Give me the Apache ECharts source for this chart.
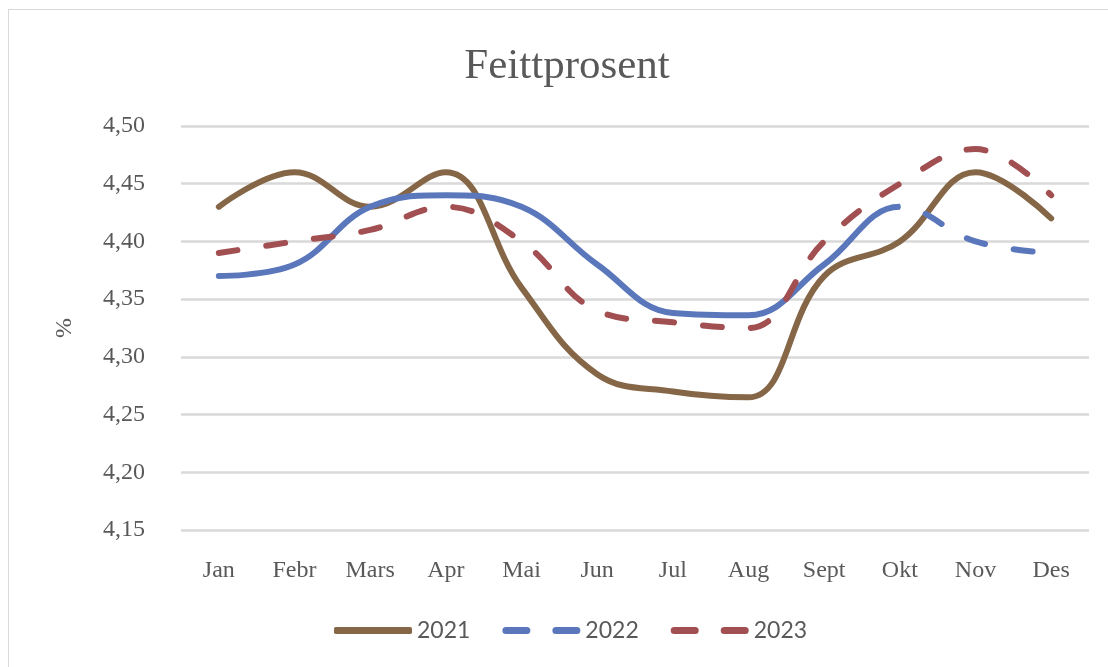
<!DOCTYPE html>
<html>
<head>
<meta charset="utf-8">
<script src="https://cdn.jsdelivr.net/npm/echarts@6/dist/echarts.min.js"></script>
<style>
  html, body { margin: 0; padding: 0; background: #fff; }
  #frame { position: absolute; left: 8px; top: 9px; width: 1110px; height: 660px; border: 1px solid #d9d9d9; box-sizing: border-box; }
  #main { position: absolute; left: 0; top: 0; width: 1108px; height: 667px; }
</style>
</head>
<body>
<div id="frame"></div>
<div id="main"></div>
<script>
// maaneder
var months = ['Jan', 'Febr', 'Mars', 'Apr', 'Mai', 'Jun', 'Jul', 'Aug', 'Sept', 'Okt', 'Nov', 'Des'];
// feittprosent per aar
var fett2021 = [4.43, 4.46, 4.43, 4.46, 4.36, 4.285, 4.27, 4.265, 4.37, 4.40, 4.46, 4.42];
var fett2022 = [4.37, 4.38, 4.43, 4.44, 4.43, 4.38, 4.338, 4.336, 4.38, 4.43, 4.40, 4.39];
var fett2023 = [4.39, 4.40, 4.41, 4.43, 4.40, 4.34, 4.33, 4.325, 4.40, 4.45, 4.48, 4.44];
var yTicks = [4.15, 4.20, 4.25, 4.30, 4.35, 4.40, 4.45, 4.50];

var c2021 = '#856647', c2022 = '#5B77BB', c2023 = '#A24F52';
var none = 'rgba(91,119,187,0)';
var gridLeft = 181, gridRight = 19, chartW = 1108;

// 2022 er heltrukket fram til Okt, stiplet etterpaa
var okt = months.indexOf('Okt');
var f = (okt + 0.5) / months.length;
function cut(before, after) {
	return {
		type: 'linear', global: true,
		x: gridLeft, y: 0, x2: chartW - gridRight, y2: 0,
		colorStops: [
			{ offset: 0, color: before }, { offset: f, color: before },
			{ offset: f, color: after }, { offset: 1, color: after }
		]
	};
}

var serif = '"Liberation Serif", "DejaVu Serif", serif';
var dash = [19, 29];
var dashIcon = 'path://M3.5,0H24.5A3.5,3.5,0,0,1,24.5,7H3.5A3.5,3.5,0,0,1,3.5,0ZM53.5,0H74.5A3.5,3.5,0,0,1,74.5,7H53.5A3.5,3.5,0,0,1,53.5,0Z';

var myChart = echarts.init(document.getElementById('main'));
var option = {
	animation: false,
	title: {
		text: 'Feittprosent',
		left: 562,
		textAlign: 'center',
		top: 40,
		textStyle: { fontFamily: serif, fontSize: 43, fontWeight: 'normal', color: '#595959' }
	},
	legend: {
		data: [
			{ name: '2021', icon: 'roundRect', itemStyle: { color: c2021 } },
			{ name: '2022', icon: dashIcon, itemStyle: { color: c2022 } },
			{ name: '2023', icon: dashIcon, itemStyle: { color: c2023 } }
		],
		bottom: 20,
		left: 329,
		itemWidth: 78,
		itemHeight: 7,
		itemGap: 32,
		textStyle: { fontFamily: 'Lato, "Liberation Sans", sans-serif', fontSize: 23, color: '#595959' }
	},
	grid: { left: gridLeft, right: gridRight, top: 126, bottom: 137 },
	xAxis: {
		type: 'category',
		data: months,
		boundaryGap: true,
		axisLine: { show: false },
		axisTick: { show: false },
		axisLabel: { fontFamily: serif, fontSize: 24, color: '#595959', margin: 29 }
	},
	yAxis: {
		type: 'value',
		min: yTicks[0],
		max: yTicks[yTicks.length - 1],
		interval: 0.05,
		name: '%',
		nameLocation: 'middle',
		nameGap: 104,
		nameRotate: 90,
		nameTextStyle: { fontFamily: serif, fontSize: 24, color: '#595959' },
		axisLine: { show: false },
		axisTick: { show: false },
		splitLine: { lineStyle: { color: '#d9d9d9', width: 2.5 } },
		axisLabel: {
			fontFamily: serif, fontSize: 24, color: '#595959', margin: 36,
			formatter: function(v) { return v.toFixed(2).replace('.', ','); }
		}
	},
	series: [
		{
			name: '2021', type: 'line', data: fett2021, smooth: 0.4, symbol: 'none',
			lineStyle: { color: c2021, width: 6, cap: 'round' },
			itemStyle: { color: c2021 }
		},
		{
			name: '2022', type: 'line', data: fett2022, smooth: 0.4, symbol: 'none',
			lineStyle: { color: cut(c2022, none), width: 6, cap: 'round' },
			itemStyle: { color: c2022 }
		},
		{
			name: '2022b', type: 'line', data: fett2022, smooth: 0.4, symbol: 'none',
			lineStyle: { color: cut(none, c2022), width: 6, type: dash, cap: 'round', dashOffset: 8 },
			itemStyle: { color: c2022 }
		},
		{
			name: '2023', type: 'line', data: fett2023, smooth: 0.4, symbol: 'none',
			lineStyle: { color: c2023, width: 6, type: dash, cap: 'round' },
			itemStyle: { color: c2023 }
		}
	]
};
myChart.setOption(option);
</script>
</body>
</html>
